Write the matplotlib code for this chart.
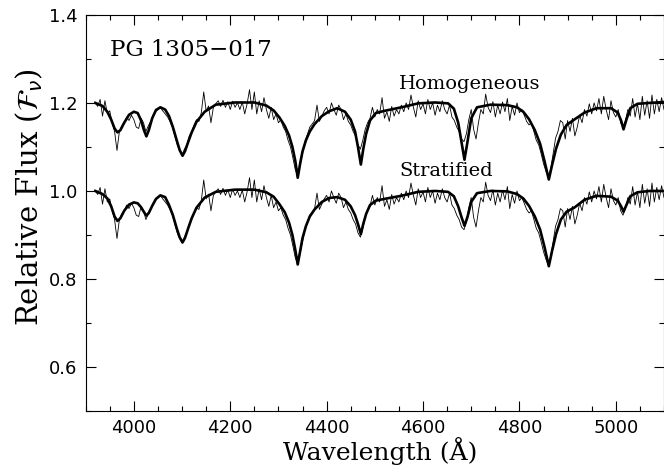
import numpy as np
import matplotlib
matplotlib.use("Agg")
import matplotlib.pyplot as plt
from matplotlib.ticker import MultipleLocator

# smooth model spectra (wavelength in A, relative flux)
model_wave = [3920, 3935, 3945, 3953, 3960, 3966, 3972, 3980, 3990, 4000,
              4008, 4015, 4021, 4026, 4031, 4038, 4046, 4055, 4065, 4073,
              4081, 4089, 4095, 4101, 4106, 4113, 4120, 4130, 4147, 4170,
              4210, 4250, 4275, 4290, 4302, 4313, 4322, 4329, 4335, 4340,
              4345, 4350, 4357, 4365, 4375, 4390, 4405, 4422, 4438, 4450,
              4459, 4465, 4471, 4476, 4482, 4490, 4502, 4520, 4555, 4590,
              4625, 4652, 4664, 4673, 4680, 4686, 4692, 4700, 4712, 4740,
              4775, 4795, 4808, 4820, 4832, 4843, 4852, 4861, 4868, 4876,
              4886, 4898, 4915, 4935, 4960, 4990, 5004, 5011, 5016, 5022,
              5030, 5045, 5070, 5100]
homog_flux = [1.200, 1.193, 1.180, 1.162, 1.142, 1.133, 1.138, 1.155, 1.173, 1.180,
              1.177, 1.160, 1.138, 1.124, 1.138, 1.165, 1.184, 1.190, 1.185, 1.170,
              1.145, 1.115, 1.093, 1.080, 1.090, 1.112, 1.133, 1.157, 1.180, 1.196,
              1.201, 1.201, 1.194, 1.183, 1.167, 1.148, 1.126, 1.100, 1.068, 1.030,
              1.062, 1.090, 1.115, 1.135, 1.152, 1.170, 1.181, 1.188, 1.180, 1.162,
              1.135, 1.100, 1.060, 1.095, 1.130, 1.160, 1.177, 1.182, 1.190, 1.199,
              1.201, 1.199, 1.187, 1.155, 1.110, 1.071, 1.110, 1.165, 1.190, 1.196,
              1.195, 1.190, 1.180, 1.163, 1.138, 1.107, 1.068, 1.026, 1.060, 1.096,
              1.128, 1.150, 1.163, 1.178, 1.188, 1.188, 1.178, 1.160, 1.140, 1.162,
              1.188, 1.198, 1.200, 1.202]
strat_flux = [1.000, 0.993, 0.983, 0.965, 0.942, 0.932, 0.938, 0.955, 0.969, 0.974,
              0.972, 0.963, 0.952, 0.944, 0.950, 0.966, 0.982, 0.990, 0.986, 0.968,
              0.945, 0.915, 0.895, 0.883, 0.893, 0.916, 0.938, 0.962, 0.985, 0.998,
              1.003, 1.003, 0.997, 0.987, 0.970, 0.952, 0.928, 0.900, 0.866, 0.833,
              0.863, 0.893, 0.920, 0.942, 0.958, 0.975, 0.984, 0.986, 0.980, 0.965,
              0.945, 0.925, 0.902, 0.925, 0.948, 0.968, 0.978, 0.982, 0.989, 0.998,
              1.000, 0.998, 0.988, 0.965, 0.940, 0.921, 0.940, 0.975, 0.995, 1.000,
              0.999, 0.993, 0.983, 0.966, 0.942, 0.912, 0.873, 0.829, 0.865, 0.902,
              0.935, 0.953, 0.963, 0.980, 0.989, 0.987, 0.978, 0.965, 0.953, 0.968,
              0.988, 0.997, 1.000, 1.000]

# observed spectrum, 3920-5100 A every 5 A (stratified level; shifted +0.2 for the top)
obs_flux = [
    1.000, 0.992, 1.008, 0.970, 1.005, 0.975, 0.982, 0.955, 0.935, 0.892,  # 3920
    0.935, 0.948, 0.955, 0.968, 0.960, 0.972, 0.962, 0.945, 0.942, 0.965,  # 3970
    0.955, 0.935, 0.948, 0.958, 0.972, 0.980, 0.985, 0.990, 0.982, 0.975,  # 4020
    0.968, 0.958, 0.945, 0.925, 0.905, 0.892, 0.882, 0.895, 0.905, 0.925,  # 4070
    0.935, 0.950, 0.962, 0.958, 0.978, 1.025, 0.982, 0.993, 0.955, 0.990,  # 4120
    0.998, 1.005, 0.992, 1.006, 0.990, 1.003, 0.985, 1.004, 0.990, 1.000,  # 4170
    0.985, 1.002, 0.975, 0.998, 1.030, 0.985, 1.025, 0.975, 1.005, 0.980,  # 4220
    1.012, 0.985, 0.965, 0.990, 0.962, 0.975, 0.955, 0.962, 0.945, 0.935,  # 4270
    0.915, 0.900, 0.875, 0.848, 0.835, 0.858, 0.885, 0.912, 0.928, 0.945,  # 4320
    0.952, 0.960, 0.995, 0.958, 0.970, 0.982, 0.990, 0.975, 1.000, 0.985,  # 4370
    0.972, 0.995, 0.985, 0.962, 0.975, 0.958, 0.950, 0.935, 0.925, 0.905,  # 4420
    0.895, 0.915, 0.940, 0.955, 0.965, 0.990, 0.968, 0.985, 0.975, 1.012,  # 4470
    0.965, 0.980, 0.958, 0.992, 0.970, 0.985, 0.975, 0.995, 0.980, 1.000,  # 4520
    0.985, 1.018, 0.990, 0.968, 1.005, 0.985, 0.998, 0.975, 1.008, 0.985,  # 4570
    1.000, 0.972, 0.995, 0.980, 1.005, 0.985, 0.975, 0.995, 0.968, 0.960,  # 4620
    0.945, 0.935, 0.918, 0.912, 0.930, 0.962, 0.985, 0.940, 0.918, 0.955,  # 4670
    0.985, 0.975, 1.020, 0.990, 0.978, 1.003, 0.968, 0.995, 0.975, 1.002,  # 4720
    0.980, 1.010, 0.960, 0.992, 0.972, 1.000, 0.978, 0.985, 0.972, 0.958,  # 4770
    0.950, 0.955, 0.935, 0.915, 0.905, 0.885, 0.862, 0.845, 0.832, 0.850,  # 4820
    0.885, 0.920, 0.935, 0.960, 0.955, 0.918, 0.960, 0.935, 0.965, 0.925,  # 4870
    0.945, 0.972, 0.955, 0.985, 0.970, 0.998, 0.975, 1.000, 0.982, 1.010,  # 4920
    0.975, 1.015, 0.985, 0.962, 1.005, 0.978, 0.968, 0.985, 0.955, 0.945,  # 4970
    0.960, 0.985, 0.970, 1.010, 0.968, 0.998, 0.962, 1.015, 0.972, 1.005,  # 5020
    0.965, 1.018, 0.975, 1.008, 0.980, 1.012, 0.985,                       # 5070
]
obs_wave = np.arange(3920, 5101, 5)
offset = 0.2

fig = plt.figure(figsize=(6.64, 4.65), dpi=100)
ax = fig.add_axes([0.129, 0.116, 0.871, 0.852])

obs = np.array(obs_flux)
ax.plot(obs_wave, obs + offset, color="black", lw=0.6)
ax.plot(obs_wave, obs, color="black", lw=0.6)
ax.plot(model_wave, homog_flux, color="black", lw=1.9)
ax.plot(model_wave, strat_flux, color="black", lw=1.9)

ax.set_xlim(3900, 5100)
ax.set_ylim(0.5, 1.4)
ax.xaxis.set_major_locator(MultipleLocator(200))
ax.xaxis.set_minor_locator(MultipleLocator(50))
ax.yaxis.set_major_locator(MultipleLocator(0.2))
ax.yaxis.set_minor_locator(MultipleLocator(0.1))
ax.yaxis.set_major_formatter(plt.FuncFormatter(lambda v, p: "%.1f" % v))
ax.tick_params(which="both", direction="in", top=True, right=True, width=0.8)
ax.tick_params(which="major", length=7, labelsize=13, pad=6)
ax.tick_params(which="minor", length=3.5)
for s in ax.spines.values():
    s.set_linewidth(0.8)

ax.text(3950, 1.32, "PG 1305\u2212017", family="DejaVu Serif", fontsize=16.5,
        va="center", ha="left")
ax.text(4551, 1.242, "Homogeneous", family="DejaVu Serif", fontsize=14,
        va="center", ha="left")
ax.text(4551, 1.045, "Stratified", family="DejaVu Serif", fontsize=14,
        va="center", ha="left")

ax.set_xlabel("Wavelength (\u00c5)", family="DejaVu Serif", fontsize=18)
ax.set_ylabel(r"Relative Flux ($\mathcal{F}_\nu$)", family="DejaVu Serif", fontsize=21)
ax.xaxis.set_label_coords(0.509, -0.101)
ax.yaxis.set_label_coords(-0.097, 0.54)
ax.xaxis.label.set_va("center")
ax.yaxis.label.set_va("center")

fig.savefig("out.png", dpi=100)
